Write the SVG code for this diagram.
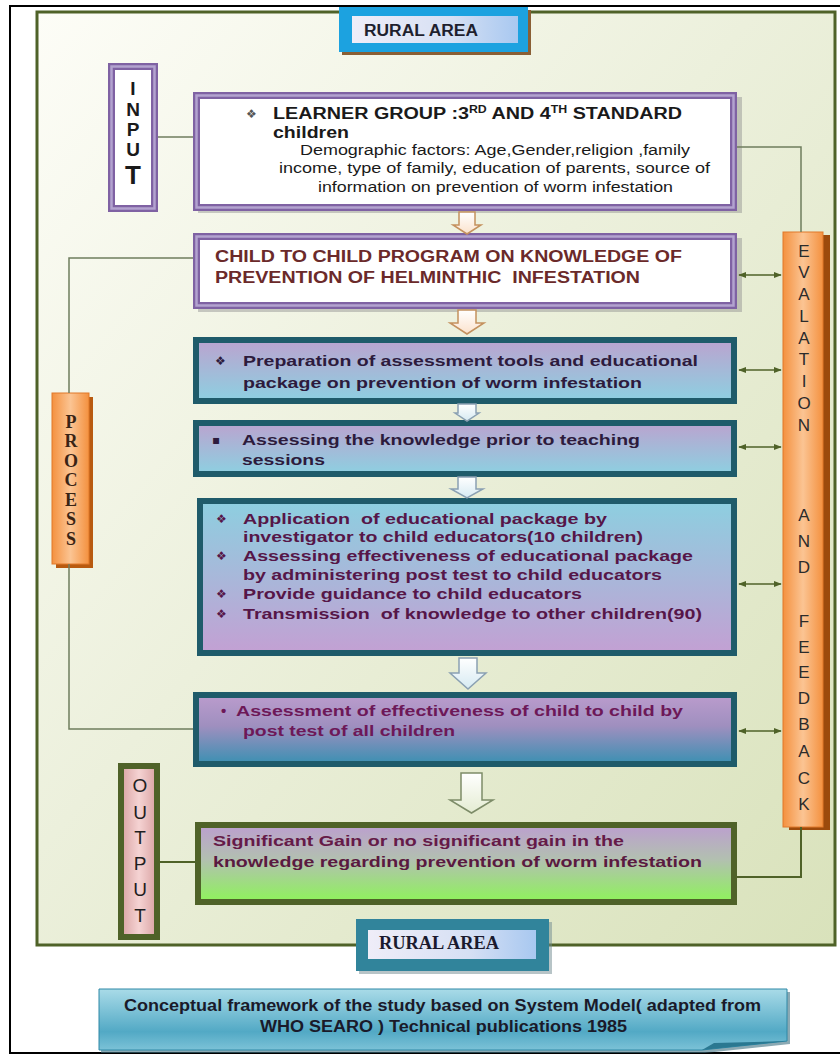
<svg xmlns="http://www.w3.org/2000/svg" width="840" height="1055" viewBox="0 0 840 1055">
<defs>
  <linearGradient id="gBg" x1="0" y1="0" x2="1" y2="1">
    <stop offset="0" stop-color="#fdfdf7"/>
    <stop offset="0.45" stop-color="#ecf0dc"/>
    <stop offset="1" stop-color="#d9e2bb"/>
  </linearGradient>
  <linearGradient id="gPrep" x1="0" y1="0" x2="0" y2="1">
    <stop offset="0" stop-color="#bba3cf"/>
    <stop offset="1" stop-color="#8dd0e1"/>
  </linearGradient>
  <linearGradient id="gApp" x1="0" y1="0" x2="0" y2="1">
    <stop offset="0" stop-color="#8dcfe0"/>
    <stop offset="1" stop-color="#c3a0d3"/>
  </linearGradient>
  <linearGradient id="gAss" x1="0" y1="0" x2="0" y2="1">
    <stop offset="0" stop-color="#bb9ccd"/>
    <stop offset="0.45" stop-color="#9f8fbf"/>
    <stop offset="1" stop-color="#3a90b2"/>
  </linearGradient>
  <linearGradient id="gSig" x1="0" y1="0" x2="0" y2="1">
    <stop offset="0" stop-color="#bc9fcf"/>
    <stop offset="0.45" stop-color="#b2c0b0"/>
    <stop offset="1" stop-color="#8ef45a"/>
  </linearGradient>
  <linearGradient id="gOr" x1="0" y1="0" x2="1" y2="0">
    <stop offset="0" stop-color="#f4913f"/>
    <stop offset="0.5" stop-color="#fbc493"/>
    <stop offset="1" stop-color="#f4913f"/>
  </linearGradient>
  <linearGradient id="gPink" x1="0" y1="0" x2="1" y2="0">
    <stop offset="0" stop-color="#d9a2a2"/>
    <stop offset="0.5" stop-color="#f5d3d3"/>
    <stop offset="1" stop-color="#d9a2a2"/>
  </linearGradient>
  <linearGradient id="gLabel" x1="0" y1="0" x2="1" y2="0">
    <stop offset="0" stop-color="#efedf8"/>
    <stop offset="0.6" stop-color="#d6e0f4"/>
    <stop offset="1" stop-color="#a8c8f0"/>
  </linearGradient>
  <linearGradient id="gCap" x1="0" y1="0" x2="0" y2="1">
    <stop offset="0" stop-color="#a9dbe8"/>
    <stop offset="0.7" stop-color="#52a9c5"/>
    <stop offset="1" stop-color="#7cc2d7"/>
  </linearGradient>
  <linearGradient id="gArO" x1="0" y1="0" x2="0" y2="1">
    <stop offset="0" stop-color="#ffffff"/>
    <stop offset="1" stop-color="#fbe2cc"/>
  </linearGradient>
  <linearGradient id="gArB" x1="0" y1="0" x2="0" y2="1">
    <stop offset="0" stop-color="#ffffff"/>
    <stop offset="1" stop-color="#d6eaf2"/>
  </linearGradient>
  <linearGradient id="gArG" x1="0" y1="0" x2="0" y2="1">
    <stop offset="0" stop-color="#ffffff"/>
    <stop offset="1" stop-color="#e4ecd2"/>
  </linearGradient>
  <marker id="ah" viewBox="0 0 10 10" refX="9" refY="5" markerWidth="5" markerHeight="5" orient="auto-start-reverse">
    <path d="M0,1 L10,5 L0,9 z" fill="#4f6228"/>
  </marker>
</defs>
<style>
  .bt{font-family:"Liberation Sans",Arial,sans-serif;font-weight:bold;font-size:16px}
  .bs{font-family:"Liberation Sans",Arial,sans-serif;font-weight:bold;font-size:15px}
  .nt{font-family:"Liberation Sans",Arial,sans-serif;font-size:14px;fill:#1a1a1a}
  .sym{font-family:"DejaVu Sans",sans-serif;font-size:12px}
  .vl{font-family:"Liberation Sans",Arial,sans-serif;text-anchor:middle}
  .vs{font-family:"Liberation Serif","Times New Roman",serif;font-weight:bold;text-anchor:middle;font-size:18px;fill:#3a2414}
  .pre{white-space:pre}
  .conn{fill:none;stroke:#6f7d5e;stroke-width:1.5}
  .conng{fill:none;stroke:#4f6228;stroke-width:2}
  .dbl{stroke:#4f6228;stroke-width:1.6;marker-start:url(#ah);marker-end:url(#ah)}
  .purp{fill:#ffffff;stroke:#7f62a3;stroke-width:7}
  .purpband{fill:none;stroke:#b3a3cf;stroke-width:2.5}
  .teal{stroke:#1f5b6a;stroke-width:6}
  .shadow{fill:#8f8f8f;opacity:0.45}
  .arO{fill:url(#gArO);stroke:#c4915e;stroke-width:1.5}
  .arB{fill:url(#gArB);stroke:#8aa0b2;stroke-width:1.5}
  .arG{fill:url(#gArG);stroke:#7d8c68;stroke-width:1.5}
</style>

<rect x="0" y="0" width="840" height="1055" fill="#ffffff"/>
<rect x="10" y="6" width="840" height="1047" fill="none" stroke="#000000" stroke-width="2"/>

<g id="frame">
  <rect x="37" y="12" width="798" height="933" fill="url(#gBg)" stroke="#4f6228" stroke-width="3"/>
</g>

<g id="rural-top">
  <rect x="342" y="10" width="189" height="45" fill="#8a5f35"/>
  <rect x="339" y="7" width="189" height="45" fill="#1ca2e0"/>
  <rect x="352" y="16" width="166" height="27" fill="url(#gLabel)"/>
  <text x="364" y="36" class="bt" fill="#1f1f2e" textLength="114" lengthAdjust="spacingAndGlyphs">RURAL AREA</text>
</g>

<g id="input">
  <rect x="111.5" y="66.5" width="43" height="142" class="purp"/>
  <rect x="111.5" y="66.5" width="43" height="142" class="purpband"/>
  <g class="vl" font-weight="bold" fill="#1a1a1a" font-size="19">
    <text x="133" y="95">I</text>
    <text x="133" y="116">N</text>
    <text x="133" y="136">P</text>
    <text x="133" y="156">U</text>
    <text x="133" y="184" font-size="26">T</text>
  </g>
</g>

<g id="learner">
  <rect x="198" y="97" width="544" height="116" class="shadow"/>
  <rect x="196.5" y="95.5" width="537" height="112" class="purp"/>
  <rect x="196.5" y="95.5" width="537" height="112" class="purpband"/>
  <text x="246" y="118" class="sym" fill="#555555">❖</text>
  <text x="273" y="119" class="bt" fill="#1a1a1a" textLength="409" lengthAdjust="spacingAndGlyphs">LEARNER GROUP :3<tspan font-size="10" dy="-6">RD</tspan><tspan dy="6"> AND 4</tspan><tspan font-size="10" dy="-6">TH</tspan><tspan dy="6"> STANDARD</tspan></text>
  <text x="273" y="138" class="bt" fill="#1a1a1a" textLength="76" lengthAdjust="spacingAndGlyphs">children</text>
  <text x="300" y="155" class="nt" textLength="390" lengthAdjust="spacingAndGlyphs">Demographic factors: Age,Gender,religion ,family</text>
  <text x="279" y="173" class="nt" textLength="431" lengthAdjust="spacingAndGlyphs">income, type of family, education of parents, source of</text>
  <text x="318" y="192" class="nt" textLength="355" lengthAdjust="spacingAndGlyphs">information on prevention of worm infestation</text>
</g>

<g id="child">
  <rect x="198" y="238" width="544" height="74" class="shadow"/>
  <rect x="196.5" y="236.5" width="537" height="69" class="purp"/>
  <rect x="196.5" y="236.5" width="537" height="69" class="purpband"/>
  <text x="215" y="262" class="bt" fill="#6b2a2a" textLength="467" lengthAdjust="spacingAndGlyphs">CHILD TO CHILD PROGRAM ON KNOWLEDGE OF</text>
  <text x="215" y="283" class="bt pre" fill="#6b2a2a" textLength="425" lengthAdjust="spacingAndGlyphs" xml:space="preserve">PREVENTION OF HELMINTHIC  INFESTATION</text>
</g>

<g id="preparation">
  <rect x="196" y="340" width="538" height="61" fill="url(#gPrep)" class="teal"/>
  <text x="215" y="365" class="sym" fill="#2d1b3d">❖</text>
  <text x="243" y="366" class="bs" fill="#2d1b3d" textLength="455" lengthAdjust="spacingAndGlyphs">Preparation of assessment tools and educational</text>
  <text x="243" y="388" class="bs" fill="#2d1b3d" textLength="399" lengthAdjust="spacingAndGlyphs">package on prevention of worm infestation</text>
</g>

<g id="assessing">
  <rect x="196" y="423" width="538" height="51" fill="url(#gPrep)" class="teal"/>
  <text x="212" y="444" class="sym" fill="#2d1b3d">▪</text>
  <text x="242" y="445" class="bs" fill="#2d1b3d" textLength="398" lengthAdjust="spacingAndGlyphs">Assessing the knowledge prior to teaching</text>
  <text x="242" y="465" class="bs" fill="#2d1b3d" textLength="83" lengthAdjust="spacingAndGlyphs">sessions</text>
</g>

<g id="application">
  <rect x="200" y="501" width="534" height="152" fill="url(#gApp)" class="teal"/>
  <g class="sym" fill="#561648">
    <text x="216" y="523">❖</text>
    <text x="216" y="560">❖</text>
    <text x="216" y="598">❖</text>
    <text x="216" y="618">❖</text>
  </g>
  <g class="bs" fill="#561648">
    <text x="243" y="524" class="pre" xml:space="preserve" textLength="364" lengthAdjust="spacingAndGlyphs">Application  of educational package by</text>
    <text x="243" y="542" textLength="400" lengthAdjust="spacingAndGlyphs">investigator to child educators(10 children)</text>
    <text x="243" y="561" textLength="450" lengthAdjust="spacingAndGlyphs">Assessing effectiveness of educational package</text>
    <text x="243" y="580" textLength="419" lengthAdjust="spacingAndGlyphs">by administering post test to child educators</text>
    <text x="243" y="599" textLength="339" lengthAdjust="spacingAndGlyphs">Provide guidance to child educators</text>
    <text x="243" y="619" class="pre" xml:space="preserve" textLength="459" lengthAdjust="spacingAndGlyphs">Transmission  of knowledge to other children(90)</text>
  </g>
</g>

<g id="assessment">
  <rect x="196" y="695" width="538" height="69" fill="url(#gAss)" class="teal"/>
  <text x="221" y="716" class="bs" fill="#6d1858">•</text>
  <text x="236" y="716" class="bs" fill="#6d1858" textLength="447" lengthAdjust="spacingAndGlyphs">Assessment of effectiveness of child to child by</text>
  <text x="243" y="736" class="bs" fill="#6d1858" textLength="212" lengthAdjust="spacingAndGlyphs">post test of all children</text>
</g>

<g id="significant">
  <rect x="198" y="825" width="536" height="77" fill="url(#gSig)" stroke="#4f6228" stroke-width="6"/>
  <text x="213" y="846" class="bs" fill="#651a48" textLength="411" lengthAdjust="spacingAndGlyphs">Significant Gain or no significant gain in the</text>
  <text x="213" y="867" class="bs" fill="#5a1a40" textLength="489" lengthAdjust="spacingAndGlyphs">knowledge regarding prevention of worm infestation</text>
</g>

<g id="process">
  <rect x="56" y="397" width="37" height="171" fill="#b85a10"/>
  <rect x="52" y="393" width="37" height="171" fill="url(#gOr)" stroke="#e0782a" stroke-width="1"/>
  <text x="71" y="428" class="vs">P</text>
  <text x="71" y="447" class="vs">R</text>
  <text x="71" y="467" class="vs">O</text>
  <text x="71" y="486" class="vs">C</text>
  <text x="71" y="506" class="vs">E</text>
  <text x="71" y="525" class="vs">S</text>
  <text x="71" y="545" class="vs">S</text>
</g>

<g id="evaluation">
  <rect x="789" y="235" width="41" height="595" fill="#9c4a0c"/>
  <rect x="783" y="232" width="40" height="595" fill="url(#gOr)" stroke="#e0782a" stroke-width="1"/>
  <g class="vl" font-size="17" fill="#2b2b2b">
    <text x="804" y="257">E</text>
    <text x="804" y="278">V</text>
    <text x="804" y="300">A</text>
    <text x="804" y="322">L</text>
    <text x="804" y="344">A</text>
    <text x="804" y="365">T</text>
    <text x="804" y="387">I</text>
    <text x="804" y="409">O</text>
    <text x="804" y="431">N</text>
    <text x="804" y="521">A</text>
    <text x="804" y="547">N</text>
    <text x="804" y="573">D</text>
    <text x="804" y="627">F</text>
    <text x="804" y="653">E</text>
    <text x="804" y="678">E</text>
    <text x="804" y="704">D</text>
    <text x="804" y="730">B</text>
    <text x="804" y="757">A</text>
    <text x="804" y="784">C</text>
    <text x="804" y="810">K</text>
  </g>
</g>

<g id="output">
  <rect x="121" y="766" width="36" height="171" fill="url(#gPink)" stroke="#4f6228" stroke-width="6"/>
  <g class="vl" font-size="19" fill="#1f1f1f">
    <text x="140" y="792">O</text>
    <text x="140" y="819">U</text>
    <text x="140" y="844">T</text>
    <text x="140" y="870">P</text>
    <text x="140" y="896">U</text>
    <text x="140" y="922">T</text>
  </g>
</g>

<g id="rural-bottom">
  <rect x="359" y="922" width="193" height="52" fill="#6f8a90" opacity="0.5"/>
  <rect x="356" y="919" width="193" height="52" fill="#31849b"/>
  <rect x="368" y="930" width="168" height="29" fill="url(#gLabel)"/>
  <text x="379" y="949" font-family="Liberation Serif, Times New Roman, serif" font-weight="bold" font-size="18" fill="#1a1a2e" textLength="120" lengthAdjust="spacingAndGlyphs">RURAL AREA</text>
</g>

<g id="caption">
  <path d="M101,992 H790 V1044 L705,1053 H101 Z" fill="#3d6f80" opacity="0.6"/>
  <path d="M99,989 H787 V1041 L702,1050 H99 Z" fill="url(#gCap)" stroke="#2f88a6" stroke-width="1"/>
  <path d="M702,1050 L787,1041 L714,1043 Z" fill="#2a7891"/>
  <text x="124" y="1011" class="bt" font-size="15" fill="#1a1a2a" textLength="637" lengthAdjust="spacingAndGlyphs">Conceptual framework of the study based on System Model( adapted from</text>
  <text x="260" y="1032" class="bt" font-size="15" fill="#1a1a2a" textLength="367" lengthAdjust="spacingAndGlyphs">WHO SEARO ) Technical publications 1985</text>
</g>

<g id="connectors">
  <line x1="158" y1="137" x2="193" y2="137" class="conn"/>
  <polyline points="737,147 801,147 801,232" class="conn"/>
  <polyline points="193,258 69,258 69,393" class="conn"/>
  <polyline points="69,564 69,729 193,729" class="conn"/>
  <line x1="160" y1="862" x2="195" y2="862" class="conng"/>
  <polyline points="737,877 801,877 801,827" class="conng"/>
  <line x1="739" y1="275" x2="781" y2="275" class="dbl"/>
  <line x1="739" y1="370" x2="781" y2="370" class="dbl"/>
  <line x1="739" y1="447" x2="781" y2="447" class="dbl"/>
  <line x1="739" y1="584" x2="781" y2="584" class="dbl"/>
  <line x1="739" y1="731" x2="781" y2="731" class="dbl"/>
  <path d="M459,212 H475 V225 H481 L467,234 L453,225 H459 Z" class="arO"/>
  <path d="M458,310 H476 V323 H484 L467,334 L450,323 H458 Z" class="arO"/>
  <path d="M458,404 H476 V413 H479 L467,421 L455,413 H458 Z" class="arB"/>
  <path d="M458,477 H476 V489 H483 L467,498 L451,489 H458 Z" class="arB"/>
  <path d="M459,658 H477 V673 H486 L468,689 L450,673 H459 Z" class="arB"/>
  <path d="M461,773 H482 V800 H493 L471.5,813 L450,800 H461 Z" class="arG"/>
</g>
</svg>
